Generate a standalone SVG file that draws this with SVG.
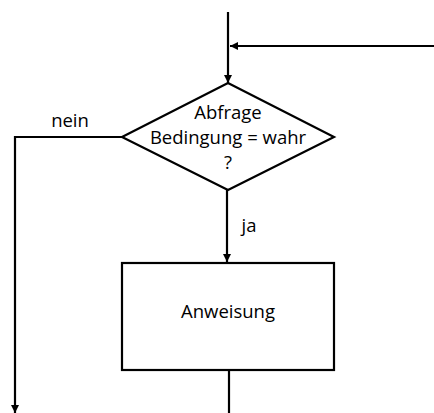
<svg xmlns="http://www.w3.org/2000/svg" width="434" height="413" viewBox="0 0 434 413">
<style>
.ln{fill:none;stroke:#000;stroke-width:2.2}
.sh{fill:#fff;stroke:#000;stroke-width:2.2}
text{font-family:"Open Sans","Noto Sans","DejaVu Sans",sans-serif;font-size:18.5px;fill:#000;text-anchor:middle}
</style>
<defs>
<marker id="ah" viewBox="0 0 8 8" refX="8" refY="4" markerWidth="8" markerHeight="8" markerUnits="userSpaceOnUse" orient="auto">
<path d="M0,0 L8,4 L0,8 z" fill="#000"/>
</marker>
</defs>
<g id="connectors">
<path class="ln" d="M228,12 V83" marker-end="url(#ah)"/>
<path class="ln" d="M434,46 H230" marker-end="url(#ah)"/>
<path class="ln" d="M122,137 H15 V413" marker-end="url(#ah)"/>
<path class="ln" d="M227,190 V262" marker-end="url(#ah)"/>
<path class="ln" d="M229,370 V413"/>
<text x="70" y="127">nein</text>
<text x="249" y="232">ja</text>
</g>
<g id="decision">
<polygon class="sh" points="228,83 334,137 228,190 122,137"/>
<text x="228" y="119">Abfrage</text>
<text x="228" y="144">Bedingung = wahr</text>
<text x="228" y="169">?</text>
</g>
<g id="statement">
<rect class="sh" x="122" y="263" width="212" height="107"/>
<text x="228" y="318">Anweisung</text>
</g>
</svg>
